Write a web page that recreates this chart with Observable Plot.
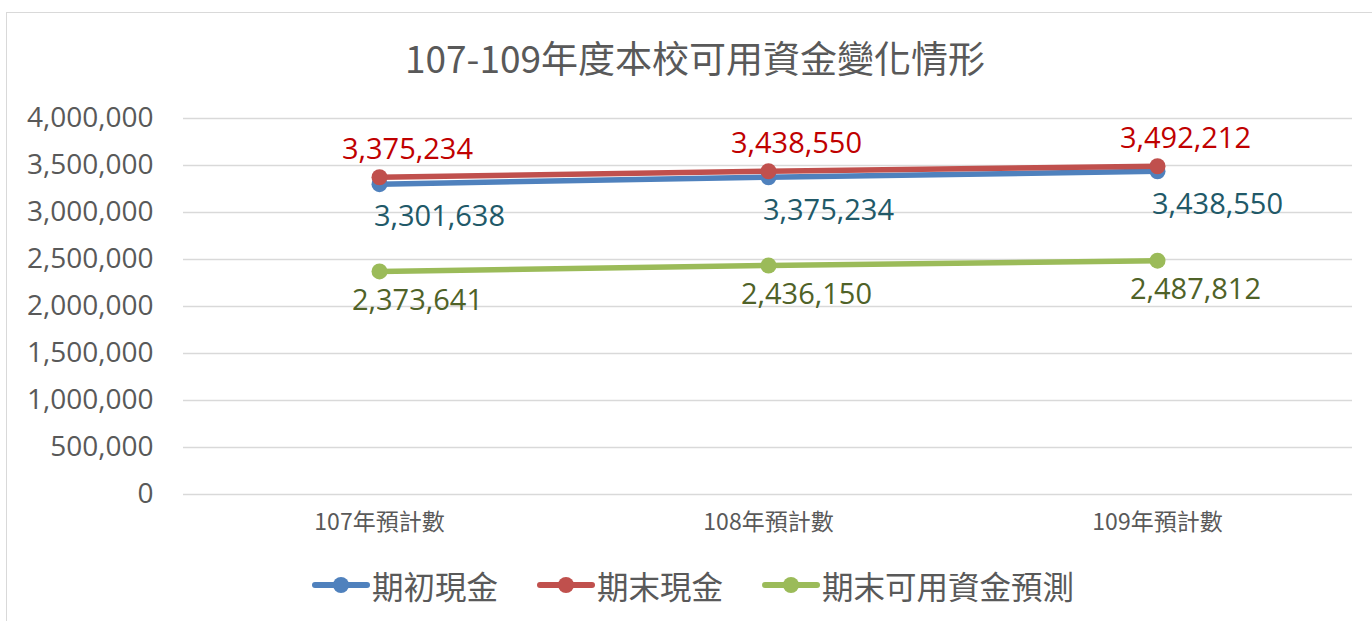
<!DOCTYPE html>
<html>
<head>
<meta charset="utf-8">
<script src="https://cdn.jsdelivr.net/npm/d3@7"></script>
<script src="https://cdn.jsdelivr.net/npm/@observablehq/plot@0.6"></script>
<style>
  html, body { margin: 0; padding: 0; background: #fff; }
  #wrap { position: relative; width: 1372px; height: 621px; overflow: hidden; }
  #frame { position: absolute; left: 6px; top: 12px; width: 1380px; height: 640px; border: 1.5px solid #d9d9d9; box-sizing: border-box; }
  #title { position: absolute; left: 0; width: 1390px; top: 31px; text-align: center; font-family: "Noto Sans CJK TC", sans-serif; font-size: 37px; color: #595959; line-height: 52px; }
  #chart { position: absolute; left: 0; top: 90px; }
  #legend { position: absolute; top: 562px; left: 311px; display: flex; align-items: center; font-family: "Noto Sans CJK TC", sans-serif; font-size: 31.5px; color: #595959; line-height: 46px; }
  .item { display: flex; align-items: center; margin-right: 38px; }
  .item svg { margin-right: 1px; }
</style>
</head>
<body>
<div id="wrap">
  <div id="frame"></div>
  <div id="title"></div>
  <div id="chart"></div>
  <div id="legend"></div>
</div>
<script>
const title = "107-109年度本校可用資金變化情形";
const categories = ["107年預計數", "108年預計數", "109年預計數"];
const seriesNames = ["期初現金", "期末現金", "期末可用資金預測"];
const openingCash = [3301638, 3375234, 3438550];
const closingCash = [3375234, 3438550, 3492212];
const availableFunds = [2373641, 2436150, 2487812];
const yTicks = [0, 500000, 1000000, 1500000, 2000000, 2500000, 3000000, 3500000, 4000000];

const lineColors = ["#4f81bd", "#c0504d", "#9bbb59"];
const labelColors = ["#215968", "#c00000", "#4f6228"];

document.getElementById("title").textContent = title;

const mk = (vals, s) => categories.map((c, i) => ({cat: c, value: vals[i], series: s}));
const opening = mk(openingCash, seriesNames[0]);
const closing = mk(closingCash, seriesNames[1]);
const available = mk(availableFunds, seriesNames[2]);

const fmt = d3.format(",");
const numFont = "'Open Sans', sans-serif";

function seriesMarks(data, idx, labelOpts) {
  return [
    Plot.line(data, {x: "cat", y: "value", stroke: lineColors[idx], strokeWidth: 5.5, strokeLinecap: "round"}),
    Plot.dot(data, {x: "cat", y: "value", fill: lineColors[idx], r: 8}),
    Plot.text(data, {x: "cat", y: "value", text: d => fmt(d.value), fill: labelColors[idx],
      fontSize: 29, fontFamily: numFont, ...labelOpts})
  ];
}

const chart = Plot.plot({
  width: 1372,
  height: 460,
  marginLeft: 183,
  marginRight: 20,
  marginTop: 28,
  marginBottom: 56,
  style: {fontFamily: numFont, color: "#595959", background: "transparent", overflow: "visible"},
  x: {type: "point", domain: categories, padding: 0.5, label: null},
  y: {domain: [0, 4000000], label: null},
  marks: [
    Plot.gridY(yTicks, {stroke: "#d9d9d9", strokeOpacity: 1, strokeWidth: 1.6}),
    Plot.axisY(yTicks, {tickSize: 0, tickPadding: 30, tickFormat: fmt, fontSize: 28, fill: "#595959", label: null}),
    Plot.axisX({tickSize: 0, tickPadding: 19, fontSize: 23, fontFamily: "'Noto Sans CJK TC', sans-serif", fill: "#595959", label: null}),
    ...seriesMarks(available, 2, {dx: 38, dy: 29}),
    ...seriesMarks(opening, 0, {dx: 60, dy: 33}),
    ...seriesMarks(closing, 1, {dx: 28, dy: -28})
  ]
});
document.getElementById("chart").appendChild(chart);

const legend = document.getElementById("legend");
seriesNames.forEach((name, i) => {
  const item = document.createElement("div");
  item.className = "item";
  item.innerHTML = `<svg width="60" height="20"><line x1="4" y1="10" x2="56" y2="10" stroke="${lineColors[i]}" stroke-width="6" stroke-linecap="round"/><circle cx="30" cy="10" r="8" fill="${lineColors[i]}"/></svg><span>${name}</span>`;
  legend.appendChild(item);
});
</script>
</body>
</html>
